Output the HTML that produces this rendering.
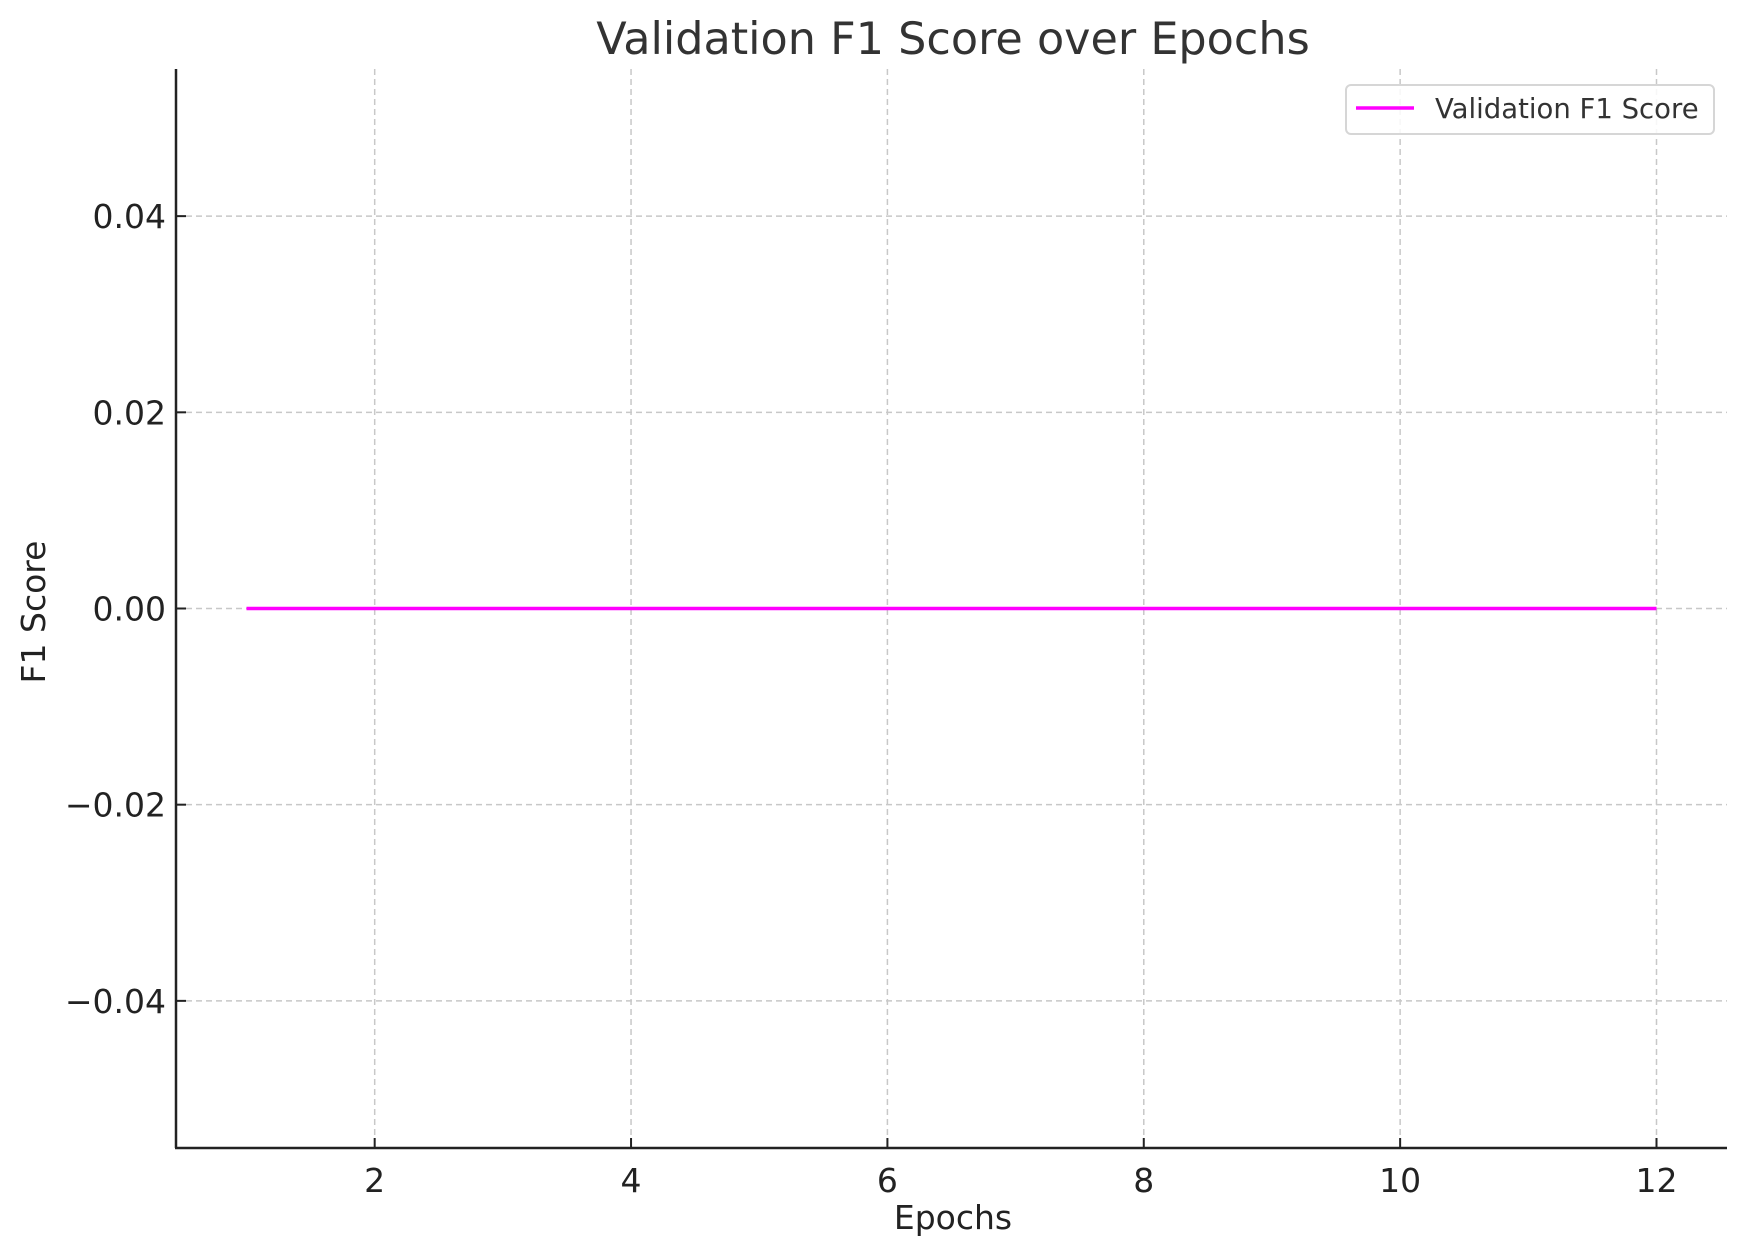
<!DOCTYPE html>
<html><head><meta charset="utf-8"><style>
html,body{margin:0;padding:0;background:#fff;}
svg{display:block;font-family:"DejaVu Sans","Liberation Sans",sans-serif;}
</style></head><body>
<svg id="chart" width="1746" height="1255" viewBox="0 0 1746 1255">
<text x="953" y="54" text-anchor="middle" font-size="44.5" fill="#333">Validation F1 Score over Epochs</text>
<g id="grid"></g>
<g id="ticks"></g>
<g id="series"></g>
<line x1="176" y1="69" x2="176" y2="1148" stroke="#222" stroke-width="2.5"/>
<line x1="175" y1="1148" x2="1727" y2="1148" stroke="#222" stroke-width="2.5"/>
<text x="953" y="1229" text-anchor="middle" font-size="33" fill="#222">Epochs</text>
<text x="0" y="0" transform="translate(45,612) rotate(-90)" text-anchor="middle" font-size="33" fill="#222">F1 Score</text>
<g>
<rect x="1346" y="85" width="368" height="49" rx="5" fill="#fff" fill-opacity="0.85" stroke="#d6d6d6" stroke-width="2"/>
<line x1="1356" y1="108" x2="1414" y2="108" stroke="#ff00ff" stroke-width="3.5"/>
<text x="1435" y="118" font-size="27.5" fill="#333">Validation F1 Score</text>
</g>
</svg>
<script>
const epochs = [1,2,3,4,5,6,7,8,9,10,11,12];
const f1Values = [0,0,0,0,0,0,0,0,0,0,0,0];
const xTicks = [2,4,6,8,10,12];
const yTicks = [-0.04,-0.02,0,0.02,0.04];
const yTickLabels = ["\u22120.04","\u22120.02","0.00","0.02","0.04"];

const L=176,R=1727,T=69,B=1148;
const xMin=0.45,xMax=12.55,yMin=-0.055,yMax=0.055;
function sx(v){return L+(v-xMin)/(xMax-xMin)*(R-L);}
function sy(v){return B-(v-yMin)/(yMax-yMin)*(B-T);}
const NS="http://www.w3.org/2000/svg";
const grid=document.getElementById('grid'),ticks=document.getElementById('ticks'),series=document.getElementById('series');
function mk(tag,attrs,parent){const e=document.createElementNS(NS,tag);for(const k in attrs)e.setAttribute(k,attrs[k]);parent.appendChild(e);return e;}
xTicks.forEach(t=>{
  const x=sx(t);
  const g=mk('line',{x1:x,y1:T,x2:x,y2:B,stroke:'#c8c8c8','stroke-width':1.5,'stroke-dasharray':'6,4'},grid);
  
  
  const tk=mk('line',{x1:x,y1:B,x2:x,y2:B-10,stroke:'#222','stroke-width':2},ticks);
  
  
  const lb=mk('text',{x:x,y:B+44,'text-anchor':'middle','font-size':33,fill:'#222'},ticks);
  lb.textContent=String(t);
  
  
});
yTicks.forEach((t,i)=>{
  const y=sy(t);
  const g=mk('line',{x1:L,y1:y,x2:R,y2:y,stroke:'#c8c8c8','stroke-width':1.5,'stroke-dasharray':'6,4'},grid);
  
  
  const tk=mk('line',{x1:L,y1:y,x2:L+10,y2:y,stroke:'#222','stroke-width':2},ticks);
  
  
  const lb=mk('text',{x:L-10,y:y+12,'text-anchor':'end','font-size':33,fill:'#222'},ticks);
  lb.textContent=yTickLabels[i];
  
  
});
const pts=epochs.map((e,i)=>sx(e)+','+sy(f1Values[i])).join(' ');
const pl=mk('polyline',{points:pts,fill:'none',stroke:'#ff00ff','stroke-width':3.5},series);


</script>
</body></html>
